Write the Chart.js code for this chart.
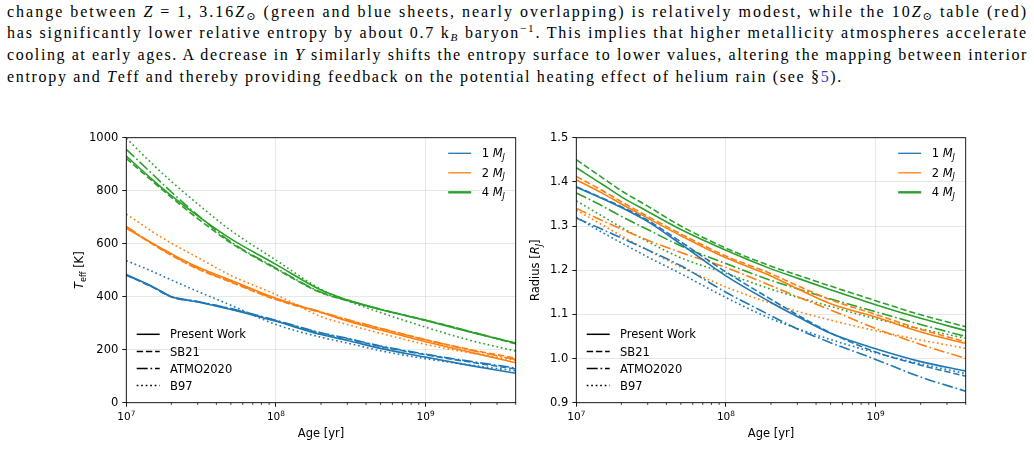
<!DOCTYPE html>
<html>
<head>
<meta charset="utf-8">
<script src="https://cdn.jsdelivr.net/npm/chart.js@4/dist/chart.umd.min.js"></script>
<style>
  body { margin: 0; background: #fff; width: 1034px; height: 474px; overflow: hidden; position: relative; }
  .ln { position: absolute; left: 7px; height: 22px; white-space: nowrap;
        font-family: "Liberation Serif", "DejaVu Serif", serif; font-size: 16px; line-height: 22px; color: #000; }
  .ln sub { font-size: 70%; vertical-align: -3px; line-height: 0; }
  .ln sup { font-size: 70%; vertical-align: 6px; line-height: 0; }
  .ref { color: #3c3cb4; }
  canvas { position: absolute; }
</style>
</head>
<body>
<div class="ln" data-w="1021" style="top:0.5px">change between <i>Z</i> = 1, 3.16<i>Z</i><sub>⊙</sub> (green and blue sheets, nearly overlapping) is relatively modest, while the 10<i>Z</i><sub>⊙</sub> table (red)</div>
<div class="ln" data-w="1021" style="top:21.5px">has significantly lower relative entropy by about 0.7 k<sub><i>B</i></sub> baryon<sup>−1</sup>. This implies that higher metallicity atmospheres accelerate</div>
<div class="ln" data-w="1021" style="top:43.5px">cooling at early ages. A decrease in <i>Y</i> similarly shifts the entropy surface to lower values, altering the mapping between interior</div>
<div class="ln" data-w="836" style="top:65.5px">entropy and <i>T</i>eff and thereby providing feedback on the potential heating effect of helium rain (see §<span class="ref">5</span>).</div>

<canvas id="teffChart" width="500" height="330" style="left:40px;top:120px"></canvas>
<canvas id="radiusChart" width="500" height="330" style="left:490px;top:120px"></canvas>

<script>
// spread each text line over its width by letter spacing
document.querySelectorAll(".ln").forEach(el => {
  const n = el.textContent.length;
  const w = el.getBoundingClientRect().width;
  el.style.letterSpacing = ((+el.dataset.w - w) / n) + "px";
});

// ages in yr, shared by every curve
const ages = [1e7, 1.5e7, 2e7, 3e7, 5e7, 1e8, 2e8, 3e8, 5e8, 1e9, 2e9, 4e9];

// tick labels
const ageTicks = [1e7, 1e8, 1e9];
const teffTicks = [0, 200, 400, 600, 800, 1000];
const radiusTicks = [0.9, 1.0, 1.1, 1.2, 1.3, 1.4, 1.5];

const massLabels = ["1", "2", "4"];
const massColors = ["#1f77b4", "#ff7f0e", "#2ca02c"];
const modelLabels = ["Present Work", "SB21", "ATMO2020", "B97"];
const modelDashes = [[], [6.4, 2.8], [11, 2.8, 1.7, 2.8], [1.7, 2.8]];

// Teff [K]
const teff1Pw   = [484, 438, 400, 380, 352, 307, 257, 235, 205, 172, 140, 111];
const teff1Sb   = [481, 436, 399, 381, 354, 309, 262, 241, 212, 181, 153, 127];
const teff1Atmo = [482, 437, 401, 382, 355, 311, 264, 243, 214, 183, 156, 131];
const teff1B97  = [536, 495, 463, 420, 368, 295, 247, 225, 196, 166, 142, 120];

const teff2Pw   = [658, 601, 562, 512, 462, 394, 341, 308, 274, 230, 190, 151];
const teff2Sb   = [662, 598, 556, 505, 455, 389, 340, 312, 280, 238, 200, 168];
const teff2Atmo = [665, 600, 558, 507, 457, 391, 343, 314, 281, 237, 198, 163];
const teff2B97  = [712, 645, 602, 548, 480, 408, 325, 295, 262, 220, 188, 160];

const teff4Pw   = [931, 841, 781, 705, 618, 522, 425, 388, 352, 310, 266, 225];
const teff4Sb   = [922, 835, 775, 695, 603, 505, 415, 385, 352, 312, 268, 222];
const teff4Atmo = [956, 862, 795, 708, 607, 508, 417, 386, 352, 311, 268, 224];
const teff4B97  = [998, 900, 835, 750, 650, 538, 428, 385, 340, 285, 235, 195];

// Radius [R_J]
const rad1Pw   = [1.388, 1.362, 1.342, 1.310, 1.259, 1.187, 1.127, 1.095, 1.057, 1.022, 0.993, 0.972];
const rad1Sb   = [1.389, 1.363, 1.344, 1.313, 1.264, 1.196, 1.134, 1.099, 1.058, 1.015, 0.985, 0.960];
const rad1Atmo = [1.318, 1.292, 1.273, 1.246, 1.210, 1.150, 1.097, 1.067, 1.036, 0.998, 0.958, 0.926];
const rad1B97  = [1.320, 1.285, 1.262, 1.230, 1.192, 1.138, 1.090, 1.068, 1.043, 1.013, 0.988, 0.966];

const rad2Pw   = [1.405, 1.374, 1.350, 1.318, 1.278, 1.228, 1.187, 1.158, 1.124, 1.094, 1.060, 1.034];
const rad2Sb   = [1.412, 1.380, 1.355, 1.322, 1.282, 1.232, 1.192, 1.165, 1.133, 1.100, 1.066, 1.038];
const rad2Atmo = [1.340, 1.312, 1.293, 1.268, 1.240, 1.206, 1.165, 1.140, 1.110, 1.068, 1.032, 1.000];
const rad2B97  = [1.336, 1.302, 1.278, 1.245, 1.207, 1.162, 1.125, 1.107, 1.087, 1.063, 1.042, 1.023];

const rad4Pw   = [1.432, 1.394, 1.366, 1.333, 1.292, 1.245, 1.203, 1.182, 1.156, 1.122, 1.091, 1.063];
const rad4Sb   = [1.450, 1.409, 1.380, 1.345, 1.300, 1.250, 1.209, 1.189, 1.164, 1.131, 1.099, 1.072];
const rad4Atmo = [1.375, 1.345, 1.322, 1.292, 1.255, 1.215, 1.177, 1.158, 1.135, 1.106, 1.077, 1.050];
const rad4B97  = [1.357, 1.322, 1.297, 1.265, 1.228, 1.193, 1.157, 1.139, 1.118, 1.090, 1.067, 1.046];

const teffSeries = [
  [teff1Pw, teff1Sb, teff1Atmo, teff1B97],
  [teff2Pw, teff2Sb, teff2Atmo, teff2B97],
  [teff4Pw, teff4Sb, teff4Atmo, teff4B97]
];
const radSeries = [
  [rad1Pw, rad1Sb, rad1Atmo, rad1B97],
  [rad2Pw, rad2Sb, rad2Atmo, rad2B97],
  [rad4Pw, rad4Sb, rad4Atmo, rad4B97]
];

const FONT = "DejaVu Sans";
const FS = 11.5;

// text with italic / sub / sup pieces
function drawRich(ctx, parts, x, y, align, size = FS) {
  const sz = p => (p.sub || p.sup) ? size * 0.7 : size;
  const fontOf = p => `${p.it ? "italic " : ""}${sz(p)}px "${FONT}"`;
  let w = 0;
  parts.forEach(p => { ctx.font = fontOf(p); p.w = ctx.measureText(p.t).width; w += p.w; });
  let cx = align === "center" ? x - w / 2 : x;
  ctx.textAlign = "left";
  ctx.textBaseline = "alphabetic";
  parts.forEach(p => {
    ctx.font = fontOf(p);
    let dy = size * 0.36;           // baseline of normal text, y is the visual middle
    if (p.sub) dy += size * 0.22;
    if (p.sup) dy -= size * 0.45;
    ctx.fillText(p.t, cx, y + dy);
    cx += p.w;
  });
}

const makeDecor = (yTitle) => ({
  id: "decor",
  afterDatasetsDraw(chart) {
    const { ctx, chartArea: a, scales: { x } } = chart;
    ctx.save();
    // box
    ctx.strokeStyle = "#000";
    ctx.lineWidth = 0.9;
    ctx.strokeRect(a.left, a.top, a.right - a.left, a.bottom - a.top);
    // minor ticks on the log axis
    ctx.lineWidth = 0.7;
    ctx.beginPath();
    for (let e = 7; e <= 9; e++) {
      for (let k = 2; k <= 9; k++) {
        const v = k * Math.pow(10, e);
        if (v > x.max) continue;
        const px = x.getPixelForValue(v);
        ctx.moveTo(px, a.bottom);
        ctx.lineTo(px, a.bottom + 2.3);
      }
    }
    ctx.stroke();

    ctx.fillStyle = "#000";
    // x tick labels 10^n
    ageTicks.forEach(v => {
      const e = String(Math.round(Math.log10(v)));
      drawRich(ctx, [{ t: "10" }, { t: e, sup: true }], x.getPixelForValue(v), a.bottom + 14, "center", 10.5);
    });

    // mass legend (upper right)
    massLabels.forEach((m, i) => {
      const y = a.top + 15.6 + i * 19.5;
      ctx.strokeStyle = massColors[i];
      ctx.lineWidth = i === 2 ? 2.4 : 1.3;
      ctx.setLineDash([]);
      ctx.beginPath();
      ctx.moveTo(a.right - 67.5, y);
      ctx.lineTo(a.right - 44.5, y);
      ctx.stroke();
      drawRich(ctx, [{ t: m + " " }, { t: "M", it: true }, { t: "J", it: true, sub: true }], a.right - 34, y);
    });
    // model legend (lower left)
    modelLabels.forEach((m, i) => {
      const y = a.bottom - 68.4 + i * 17.1;
      ctx.strokeStyle = "#000";
      ctx.lineWidth = 1.5;
      ctx.setLineDash(modelDashes[i]);
      ctx.beginPath();
      ctx.moveTo(a.left + 10.4, y);
      ctx.lineTo(a.left + 33.4, y);
      ctx.stroke();
      ctx.setLineDash([]);
      drawRich(ctx, [{ t: m }], a.left + 43.7, y);
    });

    // axis titles
    drawRich(ctx, [{ t: "Age [yr]" }], (a.left + a.right) / 2, a.bottom + 30.5, "center");
    ctx.translate(yTitle.x, (a.top + a.bottom) / 2);
    ctx.rotate(-Math.PI / 2);
    drawRich(ctx, yTitle.parts, 0, 0, "center");
    ctx.restore();
  }
});

function makeChart(id, series, yTicks, yMin, yMax, fmt, yTitle) {
  const datasets = [];
  series.forEach((models, m) => {
    models.forEach((vals, k) => {
      datasets.push({
        label: massLabels[m] + " MJ " + modelLabels[k],
        data: ages.map((a, i) => ({ x: a, y: vals[i] })),
        borderColor: massColors[m],
        borderDash: modelDashes[k],
        borderWidth: 1.6,
        pointRadius: 0,
        fill: false,
        cubicInterpolationMode: "monotone"
      });
    });
  });

  return new Chart(document.getElementById(id), {
    type: "line",
    data: { datasets },
    plugins: [makeDecor(yTitle)],
    options: {
      responsive: false,
      animation: false,
      events: [],
      layout: { padding: { left: 0, top: 17.7, right: 24.3, bottom: 0 } },
      plugins: { legend: { display: false }, tooltip: { enabled: false } },
      scales: {
        x: {
          type: "logarithmic",
          min: 1e7,
          max: 4e9,
          afterBuildTicks: s => { s.ticks = ageTicks.map(v => ({ value: v })); },
          afterFit: s => { s.height = 47.3; },
          ticks: { display: false, autoSkip: false, maxRotation: 0 },
          grid: { color: "rgba(0,0,0,0.09)", lineWidth: 1, tickColor: "#000", tickLength: 4, tickWidth: 0.9 },
          border: { display: false }
        },
        y: {
          type: "linear",
          min: yMin,
          max: yMax,
          afterBuildTicks: s => { s.ticks = yTicks.map(v => ({ value: v })); },
          afterFit: s => { s.width = 86.3; },
          ticks: {
            padding: 4, color: "#000",
            font: { family: FONT, size: FS },
            callback: fmt
          },
          grid: { color: "rgba(0,0,0,0.09)", lineWidth: 1, tickColor: "#000", tickLength: 4, tickWidth: 0.9 },
          border: { display: false }
        }
      }
    }
  });
}

makeChart("teffChart", teffSeries, teffTicks, 0, 1000, v => String(v),
  { x: 39, parts: [{ t: "T", it: true }, { t: "eff", sub: true }, { t: " [K]" }] });
makeChart("radiusChart", radSeries, radiusTicks, 0.9, 1.5, v => v.toFixed(1),
  { x: 45, parts: [{ t: "Radius [" }, { t: "R", it: true }, { t: "J", it: true, sub: true }, { t: "]" }] });
</script>
</body>
</html>
